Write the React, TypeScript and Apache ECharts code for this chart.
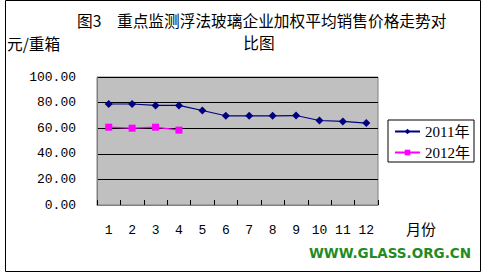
import React, { useEffect, useRef } from "react";
import * as echarts from "echarts";

const months = ["1", "2", "3", "4", "5", "6", "7", "8", "9", "10", "11", "12"];
const price2011 = [78.9, 78.9, 77.8, 77.8, 73.8, 69.7, 69.7, 69.7, 69.9, 66.0, 65.3, 64.0];
const price2012 = [60.8, 60.0, 60.8, 58.5];
const seriesNames = ["2011年", "2012年"];
const titleLine1a = "图3";
const titleLine1b = "重点监测浮法玻璃企业加权平均销售价格走势对";
const titleLine2 = "比图";
const yUnit = "元/重箱";
const xUnit = "月份";
const watermark = "WWW.GLASS.ORG.CN";

export default function App() {
  const ref = useRef<HTMLDivElement>(null);
  useEffect(() => {
    document.body.style.margin = "0";
    const chart = echarts.init(ref.current!, null, { renderer: "svg" });
    const cjk = "'Noto Sans CJK SC', sans-serif";
    const num = "'Liberation Mono', monospace";
    chart.setOption({
      animation: false,
      backgroundColor: "#ffffff",
      grid: {
        left: 97,
        top: 77,
        width: 281,
        height: 128,
        show: true,
        backgroundColor: "#c0c0c0",
        borderColor: "#808080",
        borderWidth: 1,
      },
      legend: {
        orient: "vertical",
        left: 388,
        top: 120,
        data: seriesNames,
        borderColor: "#000000",
        borderWidth: 1,
        backgroundColor: "#ffffff",
        padding: [4, 4, 2, 6],
        itemWidth: 25,
        itemHeight: 7,
        itemGap: 6,
        textStyle: { fontSize: 15, fontFamily: "'Liberation Serif', " + cjk, color: "#000" },
      },
      xAxis: {
        type: "category",
        data: months,
        boundaryGap: true,
        axisLine: { show: true, lineStyle: { color: "#808080" } },
        axisTick: { show: true, inside: true, length: 5, lineStyle: { color: "#000000" } },
        axisLabel: { margin: 19, fontSize: 13, fontFamily: num, color: "#000" },
        splitLine: { show: false },
      },
      yAxis: {
        type: "value",
        min: 0,
        max: 100,
        interval: 20,
        axisLine: { show: true, lineStyle: { color: "#808080" } },
        axisTick: { show: false },
        axisLabel: {
          margin: 21,
          fontSize: 13,
          fontFamily: num,
          color: "#000",
          formatter: (v: number) => v.toFixed(2),
        },
        splitLine: { show: true, lineStyle: { color: "#000000", width: 1 } },
      },
      series: [
        {
          name: seriesNames[0],
          type: "line",
          data: price2011,
          symbol: "diamond",
          symbolSize: 8,
          itemStyle: { color: "#000080" },
          lineStyle: { color: "#000080", width: 1.2 },
        },
        {
          name: seriesNames[1],
          type: "line",
          data: price2012,
          symbol: "rect",
          symbolSize: 7,
          itemStyle: { color: "#ff00ff" },
          lineStyle: { color: "#ff00ff", width: 1.2 },
        },
      ],
      graphic: [
        {
          type: "rect",
          shape: { x: 5.5, y: 0.5, width: 475, height: 271 },
          style: { fill: "none", stroke: "#000", lineWidth: 1 },
          silent: true,
          z: -1,
        },
        {
          type: "text",
          x: 77,
          y: 20,
          style: { text: titleLine1a, font: "15.7px " + cjk, fill: "#000", textVerticalAlign: "middle" },
        },
        {
          type: "text",
          x: 117,
          y: 20,
          style: { text: titleLine1b, font: "15.7px " + cjk, fill: "#000", textVerticalAlign: "middle" },
        },
        {
          type: "text",
          x: 259,
          y: 42,
          style: { text: titleLine2, font: "15.7px " + cjk, fill: "#000", textAlign: "center", textVerticalAlign: "middle" },
        },
        {
          type: "text",
          x: 7,
          y: 43,
          style: { text: yUnit, font: "15.7px " + cjk, fill: "#000", textVerticalAlign: "middle" },
        },
        {
          type: "text",
          x: 406,
          y: 228,
          style: { text: xUnit, font: "15px " + cjk, fill: "#000", textVerticalAlign: "middle" },
        },
        {
          type: "text",
          x: 471,
          y: 253,
          style: {
            text: watermark,
            font: "bold 13.5px 'DejaVu Sans', sans-serif",
            fill: "#228b22",
            textAlign: "right",
            textVerticalAlign: "middle",
          },
        },
      ],
    });
    return () => chart.dispose();
  }, []);
  return <div ref={ref} style={{ width: 484, height: 276 }} />;
}
